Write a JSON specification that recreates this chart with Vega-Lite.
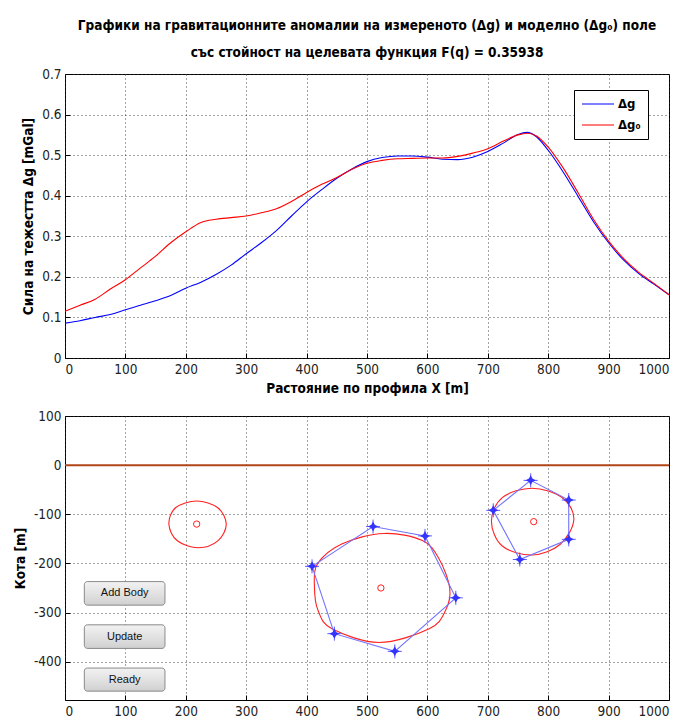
{
  "$schema": "https://vega.github.io/schema/vega-lite/v6.json",
  "padding": {"left": 12, "top": 18, "right": 4, "bottom": 0},
  "background": "#ffffff",
  "bounds": "flush",
  "spacing": 58,
  "config": {
    "font": "'DejaVu Sans Condensed', sans-serif",
    "view": {"stroke": "#000000", "strokeWidth": 1},
    "axis": {
      "domain": false,
      "grid": true,
      "gridColor": "#333333",
      "gridDash": [1, 3],
      "gridOpacity": 0.9,
      "ticks": true,
      "tickSize": -5,
      "tickColor": "#000000",
      "labelPadding": 9,
      "labelFont": "'DejaVu Sans Condensed', sans-serif",
      "labelFontSize": 13.5,
      "labelColor": "#222222",
      "titleFont": "'DejaVu Sans Condensed', sans-serif",
      "titleFontSize": 13.5,
      "titleFontWeight": "bold",
      "titleColor": "#000000",
      "titlePadding": 6
    }
  },
  "vconcat": [
    {
      "width": 604,
      "height": 284,
      "title": {
        "text": ["Графики на гравитационните аномалии на измереното (Δg) и моделно (Δg₀) поле", "със стойност на целевата функция F(q) = 0.35938"],
        "font": "'DejaVu Sans Condensed', sans-serif",
        "fontSize": 13.5,
        "fontWeight": "bold",
        "color": "#000000",
        "lineHeight": 27,
        "anchor": "middle",
        "offset": 8
      },
      "data": {
        "values": [
          {"x": 0, "v": 0.086, "s": "Δg"}, {"x": 25, "v": 0.092, "s": "Δg"}, {"x": 50, "v": 0.1, "s": "Δg"}, {"x": 75, "v": 0.107, "s": "Δg"}, {"x": 100, "v": 0.119, "s": "Δg"}, {"x": 125, "v": 0.13, "s": "Δg"}, {"x": 150, "v": 0.141, "s": "Δg"}, {"x": 175, "v": 0.154, "s": "Δg"}, {"x": 200, "v": 0.172, "s": "Δg"}, {"x": 225, "v": 0.187, "s": "Δg"}, {"x": 250, "v": 0.206, "s": "Δg"}, {"x": 275, "v": 0.229, "s": "Δg"}, {"x": 300, "v": 0.257, "s": "Δg"}, {"x": 325, "v": 0.284, "s": "Δg"}, {"x": 350, "v": 0.314, "s": "Δg"}, {"x": 375, "v": 0.35, "s": "Δg"}, {"x": 400, "v": 0.385, "s": "Δg"}, {"x": 425, "v": 0.415, "s": "Δg"}, {"x": 450, "v": 0.443, "s": "Δg"}, {"x": 475, "v": 0.466, "s": "Δg"}, {"x": 500, "v": 0.484, "s": "Δg"}, {"x": 525, "v": 0.494, "s": "Δg"}, {"x": 550, "v": 0.498, "s": "Δg"}, {"x": 575, "v": 0.498, "s": "Δg"}, {"x": 600, "v": 0.495, "s": "Δg"}, {"x": 625, "v": 0.49, "s": "Δg"}, {"x": 650, "v": 0.489, "s": "Δg"}, {"x": 675, "v": 0.495, "s": "Δg"}, {"x": 700, "v": 0.509, "s": "Δg"}, {"x": 725, "v": 0.529, "s": "Δg"}, {"x": 750, "v": 0.551, "s": "Δg"}, {"x": 765, "v": 0.556, "s": "Δg"}, {"x": 780, "v": 0.546, "s": "Δg"}, {"x": 800, "v": 0.512, "s": "Δg"}, {"x": 825, "v": 0.458, "s": "Δg"}, {"x": 850, "v": 0.397, "s": "Δg"}, {"x": 875, "v": 0.336, "s": "Δg"}, {"x": 900, "v": 0.284, "s": "Δg"}, {"x": 925, "v": 0.241, "s": "Δg"}, {"x": 950, "v": 0.208, "s": "Δg"}, {"x": 975, "v": 0.182, "s": "Δg"}, {"x": 1000, "v": 0.156, "s": "Δg"},
          {"x": 0, "v": 0.115, "s": "Δg₀"}, {"x": 25, "v": 0.13, "s": "Δg₀"}, {"x": 50, "v": 0.145, "s": "Δg₀"}, {"x": 75, "v": 0.17, "s": "Δg₀"}, {"x": 100, "v": 0.193, "s": "Δg₀"}, {"x": 125, "v": 0.222, "s": "Δg₀"}, {"x": 150, "v": 0.251, "s": "Δg₀"}, {"x": 175, "v": 0.284, "s": "Δg₀"}, {"x": 200, "v": 0.311, "s": "Δg₀"}, {"x": 225, "v": 0.334, "s": "Δg₀"}, {"x": 250, "v": 0.342, "s": "Δg₀"}, {"x": 275, "v": 0.346, "s": "Δg₀"}, {"x": 300, "v": 0.35, "s": "Δg₀"}, {"x": 325, "v": 0.358, "s": "Δg₀"}, {"x": 350, "v": 0.368, "s": "Δg₀"}, {"x": 375, "v": 0.386, "s": "Δg₀"}, {"x": 400, "v": 0.408, "s": "Δg₀"}, {"x": 425, "v": 0.428, "s": "Δg₀"}, {"x": 450, "v": 0.445, "s": "Δg₀"}, {"x": 475, "v": 0.465, "s": "Δg₀"}, {"x": 500, "v": 0.48, "s": "Δg₀"}, {"x": 525, "v": 0.487, "s": "Δg₀"}, {"x": 550, "v": 0.491, "s": "Δg₀"}, {"x": 575, "v": 0.492, "s": "Δg₀"}, {"x": 600, "v": 0.493, "s": "Δg₀"}, {"x": 625, "v": 0.493, "s": "Δg₀"}, {"x": 650, "v": 0.497, "s": "Δg₀"}, {"x": 675, "v": 0.505, "s": "Δg₀"}, {"x": 700, "v": 0.516, "s": "Δg₀"}, {"x": 725, "v": 0.534, "s": "Δg₀"}, {"x": 750, "v": 0.55, "s": "Δg₀"}, {"x": 765, "v": 0.554, "s": "Δg₀"}, {"x": 780, "v": 0.548, "s": "Δg₀"}, {"x": 800, "v": 0.52, "s": "Δg₀"}, {"x": 825, "v": 0.468, "s": "Δg₀"}, {"x": 850, "v": 0.406, "s": "Δg₀"}, {"x": 875, "v": 0.342, "s": "Δg₀"}, {"x": 900, "v": 0.288, "s": "Δg₀"}, {"x": 925, "v": 0.245, "s": "Δg₀"}, {"x": 950, "v": 0.211, "s": "Δg₀"}, {"x": 975, "v": 0.184, "s": "Δg₀"}, {"x": 1000, "v": 0.156, "s": "Δg₀"}
        ]
      },
      "mark": {"type": "line", "interpolate": "monotone", "strokeWidth": 1.1},
      "encoding": {
        "x": {
          "field": "x", "type": "quantitative",
          "scale": {"domain": [0, 1000], "nice": false},
          "axis": {"values": [0, 100, 200, 300, 400, 500, 600, 700, 800, 900, 1000], "format": "d", "title": "Растояние по профила X [m]"}
        },
        "y": {
          "field": "v", "type": "quantitative",
          "scale": {"domain": [0, 0.7], "nice": false},
          "axis": {"values": [0, 0.1, 0.2, 0.3, 0.4, 0.5, 0.6, 0.7], "format": "~g", "title": "Сила на тежестта Δg [mGal]"}
        },
        "color": {
          "field": "s", "type": "nominal",
          "scale": {"domain": ["Δg", "Δg₀"], "range": ["#0000ff", "#ff0000"]},
          "legend": {
            "title": null,
            "orient": "none",
            "legendX": 509,
            "legendY": 16,
            "strokeColor": "#000000",
            "fillColor": "#ffffff",
            "padding": 7,
            "symbolType": "stroke",
            "symbolSize": 1024,
            "symbolStrokeWidth": 1.2,
            "clipHeight": 14,
            "labelFont": "'DejaVu Sans Condensed', sans-serif",
            "labelFontSize": 13,
            "labelFontWeight": "bold",
            "labelColor": "#000000",
            "labelOffset": 3,
            "rowPadding": 7
          }
        }
      }
    },
    {
      "width": 604,
      "height": 284,
      "layer": [
        {
          "data": {"values": [{"y": 0}]},
          "mark": {"type": "rule", "color": "#b0441a", "strokeWidth": 2},
          "encoding": {
            "y": {
              "field": "y", "type": "quantitative",
              "scale": {"domain": [-478, 100], "nice": false},
              "axis": {"values": [-400, -300, -200, -100, 0, 100], "labelExpr": "'' + datum.value", "title": "Кота [m]"}
            }
          }
        },
        {
          "data": {
            "values": [
              {"body": "A", "i": 0, "x": 218, "y": -73}, {"body": "A", "i": 1, "x": 253, "y": -86.7}, {"body": "A", "i": 2, "x": 267, "y": -120.5}, {"body": "A", "i": 3, "x": 253, "y": -154}, {"body": "A", "i": 4, "x": 221, "y": -168}, {"body": "A", "i": 5, "x": 186, "y": -154}, {"body": "A", "i": 6, "x": 172, "y": -120.5}, {"body": "A", "i": 7, "x": 183, "y": -86.7},
              {"body": "B", "i": 0, "x": 528, "y": -139}, {"body": "B", "i": 1, "x": 591, "y": -153}, {"body": "B", "i": 2, "x": 619, "y": -190}, {"body": "B", "i": 3, "x": 637, "y": -251}, {"body": "B", "i": 4, "x": 630, "y": -296}, {"body": "B", "i": 5, "x": 603, "y": -333}, {"body": "B", "i": 6, "x": 520, "y": -361}, {"body": "B", "i": 7, "x": 442, "y": -333}, {"body": "B", "i": 8, "x": 419, "y": -296}, {"body": "B", "i": 9, "x": 413, "y": -248}, {"body": "B", "i": 10, "x": 418, "y": -201}, {"body": "B", "i": 11, "x": 459, "y": -160},
              {"body": "C", "i": 0, "x": 773.5, "y": -47}, {"body": "C", "i": 1, "x": 823, "y": -66}, {"body": "C", "i": 2, "x": 842.5, "y": -110}, {"body": "C", "i": 3, "x": 820, "y": -161}, {"body": "C", "i": 4, "x": 773.5, "y": -183}, {"body": "C", "i": 5, "x": 724, "y": -164.5}, {"body": "C", "i": 6, "x": 706, "y": -114}, {"body": "C", "i": 7, "x": 724, "y": -66}
            ]
          },
          "mark": {"type": "line", "interpolate": "cardinal-closed", "color": "#ff2020", "strokeWidth": 1.1},
          "encoding": {
            "x": {
              "field": "x", "type": "quantitative",
              "scale": {"domain": [0, 1000], "nice": false},
              "axis": {"values": [0, 100, 200, 300, 400, 500, 600, 700, 800, 900, 1000], "format": "d", "title": null}
            },
            "y": {"field": "y", "type": "quantitative", "axis": {"title": "Кота [m]"}},
            "detail": {"field": "body"},
            "order": {"field": "i"}
          }
        },
        {
          "data": {
            "values": [
              {"body": "B", "i": 0, "x": 409, "y": -206}, {"body": "B", "i": 1, "x": 510, "y": -125}, {"body": "B", "i": 2, "x": 596, "y": -144}, {"body": "B", "i": 3, "x": 647, "y": -270}, {"body": "B", "i": 4, "x": 546, "y": -379}, {"body": "B", "i": 5, "x": 446, "y": -343},
              {"body": "C", "i": 0, "x": 709, "y": -92}, {"body": "C", "i": 1, "x": 771, "y": -31}, {"body": "C", "i": 2, "x": 834, "y": -71}, {"body": "C", "i": 3, "x": 834, "y": -151}, {"body": "C", "i": 4, "x": 753, "y": -192}
            ]
          },
          "encoding": {
            "x": {"field": "x", "type": "quantitative", "axis": {"title": null}},
            "y": {"field": "y", "type": "quantitative", "axis": {"title": "Кота [m]"}}
          },
          "layer": [
            {
              "mark": {"type": "line", "interpolate": "linear-closed", "color": "#7272ff", "strokeWidth": 1.1},
              "encoding": {
                "detail": {"field": "body"},
                "order": {"field": "i"}
              }
            },
            {
              "mark": {"type": "point", "shape": "M-1,0L1,0M0,-1L0,1", "filled": false, "stroke": "#5a5aff", "strokeWidth": 1, "size": 196, "opacity": 1}
            },
            {
              "mark": {"type": "point", "shape": "M0,-1L0.35,-0.35L1,0L0.35,0.35L0,1L-0.35,0.35L-1,0L-0.35,-0.35Z", "filled": true, "fill": "#3434ff", "strokeWidth": 0, "size": 100, "opacity": 1}
            }
          ]
        },
        {
          "data": {"values": [{"x": 218, "y": -120}, {"x": 523, "y": -250}, {"x": 776, "y": -115}]},
          "mark": {"type": "point", "shape": "circle", "filled": false, "stroke": "#ff2020", "strokeWidth": 1, "size": 40, "opacity": 1},
          "encoding": {
            "x": {"field": "x", "type": "quantitative", "axis": {"title": null}},
            "y": {"field": "y", "type": "quantitative", "axis": {"title": "Кота [m]"}}
          }
        },
        {
          "data": {
            "values": [
              {"label": "Add Body", "x1": 32, "x2": 165.5, "y1": -237, "y2": -285, "xm": 98.8, "ym": -261},
              {"label": "Update", "x1": 32, "x2": 165.5, "y1": -325, "y2": -373, "xm": 98.8, "ym": -349},
              {"label": "Ready", "x1": 32, "x2": 165.5, "y1": -413, "y2": -460, "xm": 98.8, "ym": -436.5}
            ]
          },
          "layer": [
            {
              "mark": {
                "type": "rect",
                "cornerRadius": 3,
                "stroke": "#8a8a8a",
                "strokeWidth": 1,
                "fill": {"gradient": "linear", "x1": 0, "y1": 0, "x2": 0, "y2": 1, "stops": [{"offset": 0, "color": "#f2f2f2"}, {"offset": 0.5, "color": "#e2e2e2"}, {"offset": 1, "color": "#d0d0d0"}]}
              },
              "encoding": {
                "x": {"field": "x1", "type": "quantitative", "axis": {"title": null}},
                "x2": {"field": "x2"},
                "y": {"field": "y1", "type": "quantitative", "axis": {"title": "Кота [m]"}},
                "y2": {"field": "y2"}
              }
            },
            {
              "mark": {"type": "text", "font": "'Liberation Sans', Arial, sans-serif", "fontSize": 11, "color": "#111111", "baseline": "middle", "align": "center"},
              "encoding": {
                "x": {"field": "xm", "type": "quantitative", "axis": {"title": null}},
                "y": {"field": "ym", "type": "quantitative", "axis": {"title": "Кота [m]"}},
                "text": {"field": "label"}
              }
            }
          ]
        }
      ]
    }
  ]
}
